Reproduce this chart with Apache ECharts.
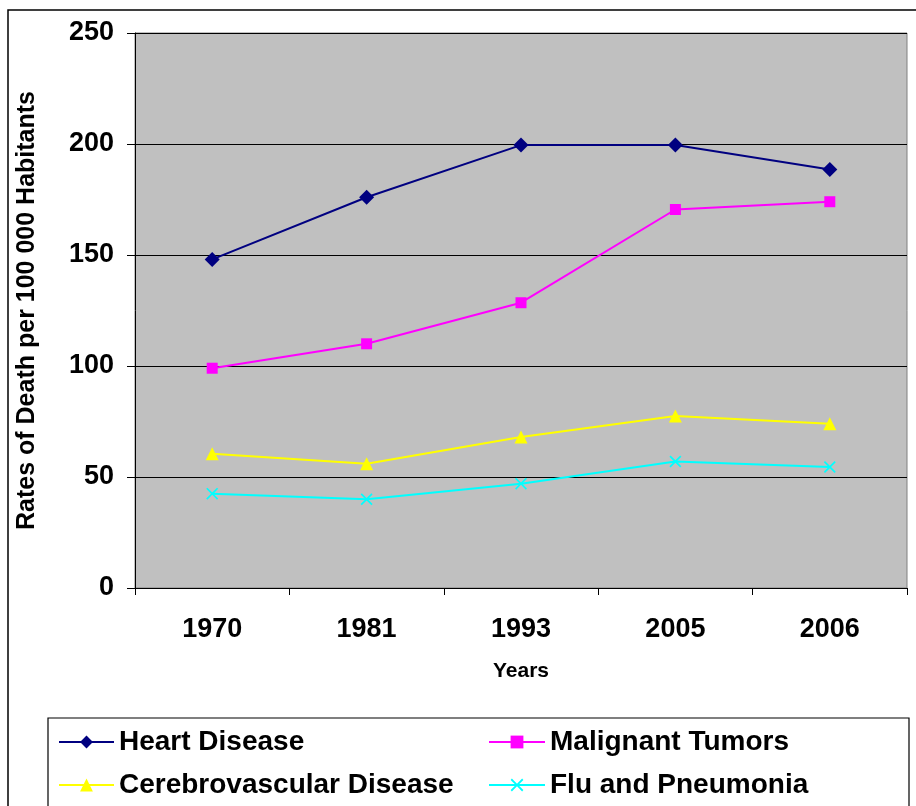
<!DOCTYPE html>
<html>
<head>
<meta charset="utf-8">
<script src="https://cdn.jsdelivr.net/npm/echarts@6/dist/echarts.min.js"></script>
<style>
  html, body { margin: 0; padding: 0; background: #fff; }
  #chart { width: 916px; height: 806px; }
</style>
</head>
<body>
<div id="chart"></div>
<script>
// data
var years = ['1970', '1981', '1993', '2005', '2006'];
var heartDisease = [148, 176, 199.5, 199.5, 188.5];
var malignantTumors = [99, 110, 128.5, 170.5, 174];
var cerebrovascular = [60.5, 56, 68, 77.5, 74];
var fluPneumonia = [42.5, 40, 47, 57, 54.5];

var fontFam = '"Liberation Sans", Arial, sans-serif';
var crossPath = 'path://M0,1 L1,0 L5,4 L9,0 L10,1 L6,5 L10,9 L9,10 L5,6 L1,10 L0,9 L4,5 Z';

var chart = echarts.init(document.getElementById('chart'));

function lineSeries(name, data, color, symbol, size) {
    return {
        name: name,
        type: 'line',
        data: data,
        symbol: symbol,
        symbolSize: size,
        showAllSymbol: true,
        lineStyle: { color: color, width: 2 },
        itemStyle: { color: color },
        emphasis: { disabled: true },
        animation: false
    };
}

var legendText = { fontSize: 28, fontWeight: 'bold', color: '#000', fontFamily: fontFam };

var option = {
    backgroundColor: '#fff',
    animation: false,
    textStyle: { fontFamily: fontFam },
    graphic: [
        // outer chart border
        { type: 'rect', shape: { x: 8, y: 10, width: 1000, height: 1000 },
          style: { fill: null, stroke: '#000', lineWidth: 1.5 }, silent: true },
        // legend box
        { type: 'rect', shape: { x: 48, y: 718, width: 861, height: 200 },
          style: { fill: '#fff', stroke: '#000', lineWidth: 1.2 }, silent: true }
    ],
    grid: {
        left: 135, top: 33, right: 9, bottom: 218,
        show: true,
        backgroundColor: '#C0C0C0',
        borderColor: '#808080',
        borderWidth: 1
    },
    legend: [
        {
            left: 58, top: 728, height: 78, padding: 0, orient: 'vertical', itemGap: 15,
            itemWidth: 55, itemHeight: 16,
            data: ['Heart Disease', 'Cerebrovascular Disease'],
            textStyle: legendText
        },
        {
            left: 488, top: 728, height: 78, padding: 0, orient: 'vertical', itemGap: 15,
            itemWidth: 56, itemHeight: 16,
            data: ['Malignant Tumors', 'Flu and Pneumonia'],
            textStyle: legendText
        }
    ],
    xAxis: {
        type: 'category',
        data: years,
        boundaryGap: true,
        name: 'Years',
        nameLocation: 'middle',
        nameGap: 73,
        nameTextStyle: { fontSize: 21, fontWeight: 'bold', color: '#000' },
        axisLine: { lineStyle: { color: '#000', width: 1 } },
        axisTick: { show: true, length: 7, lineStyle: { color: '#000' } },
        axisLabel: { fontSize: 27, fontWeight: 'bold', color: '#000', margin: 28 }
    },
    yAxis: {
        type: 'value',
        min: 0, max: 250, interval: 50,
        name: 'Rates of Death per 100 000 Habitants',
        nameLocation: 'middle',
        nameRotate: 90,
        nameGap: 95,
        nameTextStyle: { fontSize: 25, fontWeight: 'bold', color: '#000' },
        axisLine: { show: true, lineStyle: { color: '#000', width: 1 } },
        axisTick: { show: true, length: 8, lineStyle: { color: '#000' } },
        axisLabel: { fontSize: 27, fontWeight: 'bold', color: '#000', margin: 21, padding: [6, 0, 0, 0] },
        splitLine: { show: true, lineStyle: { color: '#000', width: 1 } }
    },
    series: [
        lineSeries('Heart Disease', heartDisease, '#000080', 'diamond', 15),
        lineSeries('Malignant Tumors', malignantTumors, '#FF00FF', 'rect', 11),
        lineSeries('Cerebrovascular Disease', cerebrovascular, '#FFFF00', 'triangle', 13),
        lineSeries('Flu and Pneumonia', fluPneumonia, '#00FFFF', crossPath, 12)
    ]
};

chart.setOption(option);
</script>
</body>
</html>
